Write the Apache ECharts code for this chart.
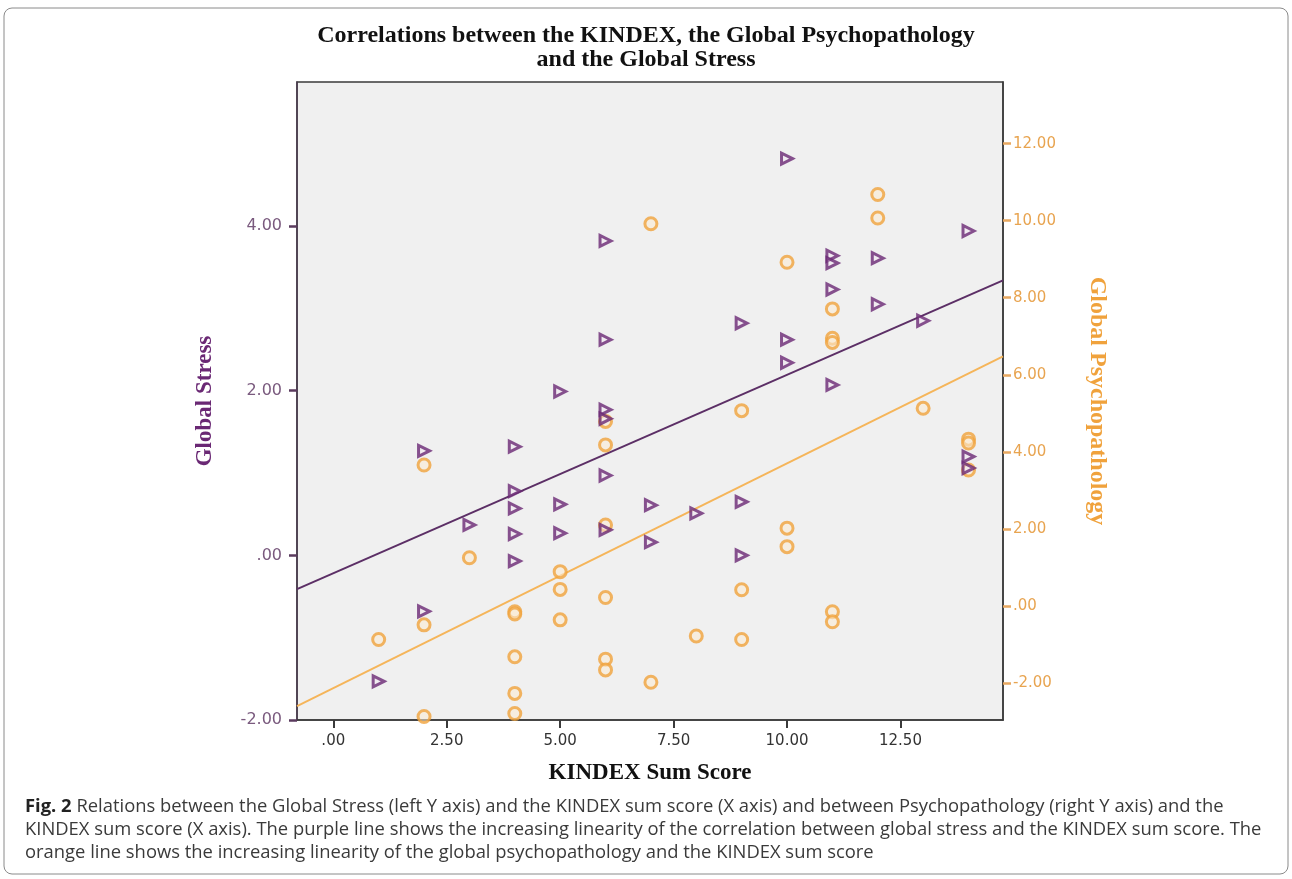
<!DOCTYPE html>
<html>
<head>
<meta charset="utf-8">
<script src="https://cdn.jsdelivr.net/npm/echarts@6/dist/echarts.min.js"></script>
<style>
  html, body { margin: 0; padding: 0; background: #fff; }
  #chart { width: 1292px; height: 879px; }
</style>
</head>
<body>
<div id="chart"></div>
<script>
// KINDEX sum score vs Global Stress (left axis, triangles)
const stressKindex = [1, 2, 2, 3, 4, 4, 4, 4, 4, 5, 5, 5, 6, 6, 6, 6, 6, 6, 7, 7, 8, 9, 9, 9,
  10, 10, 10, 11, 11, 11, 11, 12, 12, 13, 14, 14, 14];
const stressValues = [-1.53, 1.27, -0.68, 0.37, 1.32, 0.78, 0.57, 0.26, -0.07, 1.99, 0.62, 0.27,
  3.82, 2.62, 1.77, 1.66, 0.97, 0.31, 0.61, 0.16, 0.51, 2.82, 0.65, 0.0,
  4.82, 2.62, 2.34, 3.64, 3.55, 3.23, 2.07, 3.61, 3.05, 2.85, 3.94, 1.2, 1.06];

// KINDEX sum score vs Global Psychopathology (right axis, circles)
const psychoKindex = [1, 2, 2, 2, 3, 4, 4, 4, 4, 4, 5, 5, 5, 6, 6, 6, 6, 6, 6, 7, 7, 8, 9, 9, 9,
  10, 10, 10, 11, 11, 11, 11, 11, 12, 12, 13, 14, 14, 14];
const psychoValues = [-0.87, 3.66, -0.49, -2.87, 1.25, -0.15, -0.21, -1.32, -2.27, -2.79,
  0.89, 0.43, -0.36, 4.79, 4.18, 2.1, 0.22, -1.38, -1.66, 9.92, -1.98, -0.78, 5.07, 0.42, -0.87,
  8.92, 2.02, 1.54, 7.71, 6.95, 6.84, -0.15, -0.41, 10.68, 10.07, 5.13, 4.33, 4.23, 3.53];

// fit line end points
const stressFit = [[-0.8, -0.41], [14.76, 3.34]];
const psychoFit = [[-0.8, -2.6], [14.76, 6.48]];

const xTicks = [0, 2.5, 5, 7.5, 10, 12.5];
const stressTicks = [-2, 0, 2, 4];
const psychoTicks = [-2, 0, 2, 4, 6, 8, 10, 12];

const PURPLE = "#6a2874";
const ORANGE = "#f0a23c";

function spssNum(v) {
  if (Math.abs(v) < 1e-9) return ".00";
  return v.toFixed(2);
}

function zip(xs, ys) {
  return xs.map((x, i) => [x, ys[i]]);
}

const chart = echarts.init(document.getElementById("chart"));

chart.setOption({
  animation: false,
  backgroundColor: "#fff",
  title: {
    text: "Correlations between the KINDEX, the Global Psychopathology\nand the Global Stress",
    left: "center",
    top: 19,
    textStyle: {
      fontFamily: "Liberation Serif",
      fontWeight: "bold",
      fontSize: 24,
      lineHeight: 24,
      color: "#111",
    },
  },
  grid: {
    left: 297,
    right: 289,
    top: 82,
    bottom: 159,
    show: true,
    backgroundColor: "#f0f0f0",
    borderColor: "#3a3a3a",
    borderWidth: 1.5,
  },
  xAxis: {
    type: "value",
    min: -0.8,
    max: 14.76,
    name: "KINDEX Sum Score",
    nameLocation: "middle",
    nameGap: 42,
    nameTextStyle: {
      fontFamily: "Liberation Serif",
      fontWeight: "bold",
      fontSize: 23,
      color: "#111",
    },
    axisLine: { show: true, onZero: false, lineStyle: { color: "#3a3a3a", width: 1.5 } },
    axisTick: {
      show: true,
      inside: false,
      length: 8,
      customValues: xTicks,
      lineStyle: { color: "#3a3a3a", width: 2 },
    },
    axisLabel: {
      customValues: xTicks,
      formatter: spssNum,
      margin: 14,
      fontFamily: "DejaVu Sans",
      fontSize: 15,
      color: "#333",
    },
    splitLine: { show: false },
  },
  yAxis: [
    {
      type: "value",
      position: "left",
      min: -2,
      max: 5.75,
      name: "Global Stress",
      nameLocation: "middle",
      nameRotate: 90,
      nameGap: 80,
      nameTextStyle: {
        fontFamily: "Liberation Serif",
        fontWeight: "bold",
        fontSize: 23,
        color: PURPLE,
      },
      axisLine: { show: true, onZero: false, lineStyle: { color: "#4a3a4e", width: 1.5 } },
      axisTick: {
        show: true,
        length: 8,
        customValues: stressTicks,
        lineStyle: { color: "#5a3a5e", width: 2.5 },
      },
      axisLabel: {
        customValues: stressTicks,
        formatter: spssNum,
        margin: 15,
        fontFamily: "DejaVu Sans",
        fontSize: 16,
        color: "#7a5a7e",
      },
      splitLine: { show: false },
    },
    {
      type: "value",
      position: "right",
      min: -2.96,
      max: 13.6,
      name: "Global Psychopathology",
      nameLocation: "middle",
      nameRotate: -90,
      nameGap: 82,
      nameTextStyle: {
        fontFamily: "Liberation Serif",
        fontWeight: "bold",
        fontSize: 24,
        color: ORANGE,
      },
      axisLine: { show: true, onZero: false, lineStyle: { color: "#3a3a3a", width: 1.5 } },
      axisTick: {
        show: true,
        length: 8,
        customValues: psychoTicks,
        lineStyle: { color: "#e8a860", width: 2.5 },
      },
      axisLabel: {
        customValues: psychoTicks,
        formatter: spssNum,
        margin: 10,
        fontFamily: "DejaVu Sans",
        fontSize: 15,
        color: "#e8a450",
      },
      splitLine: { show: false },
    },
  ],
  series: [
    {
      name: "Global Stress fit",
      type: "line",
      yAxisIndex: 0,
      data: stressFit,
      symbol: "none",
      lineStyle: { color: "#5c2f66", width: 2 },
      z: 2,
    },
    {
      name: "Global Psychopathology fit",
      type: "line",
      yAxisIndex: 1,
      data: psychoFit,
      symbol: "none",
      lineStyle: { color: "#f5b55a", width: 2 },
      z: 2,
    },
    {
      name: "Global Psychopathology",
      type: "scatter",
      yAxisIndex: 1,
      data: zip(psychoKindex, psychoValues),
      symbol: "circle",
      symbolSize: 12,
      itemStyle: { color: "rgba(252,236,210,0.7)", borderColor: ORANGE, borderWidth: 3 },
      z: 3,
    },
    {
      name: "Global Stress",
      type: "scatter",
      yAxisIndex: 0,
      data: zip(stressKindex, stressValues),
      symbol: "triangle",
      symbolRotate: -90,
      symbolSize: 11,
      itemStyle: { color: "rgba(240,230,240,0.6)", borderColor: PURPLE, borderWidth: 3 },
      z: 4,
    },
  ],
  graphic: [
    {
      type: "rect",
      shape: { x: 4, y: 8, width: 1284, height: 866, r: 8 },
      style: { fill: "none", stroke: "#8a8a8a", lineWidth: 1 },
      silent: true,
    },
    {
      type: "text",
      left: 25,
      top: 795,
      style: {
        text: "{b|Fig. 2} Relations between the Global Stress (left Y axis) and the KINDEX sum score (X axis) and between Psychopathology (right Y axis) and the\nKINDEX sum score (X axis). The purple line shows the increasing linearity of the correlation between global stress and the KINDEX sum score. The\norange line shows the increasing linearity of the global psychopathology and the KINDEX sum score",
        font: "18.4px 'Open Sans'",
        fill: "#3a3a3a",
        lineHeight: 23,
        rich: {
          b: { font: "bold 18.4px 'Open Sans'", fill: "#222", lineHeight: 23 },
        },
      },
    },
  ],
});
</script>
</body>
</html>
